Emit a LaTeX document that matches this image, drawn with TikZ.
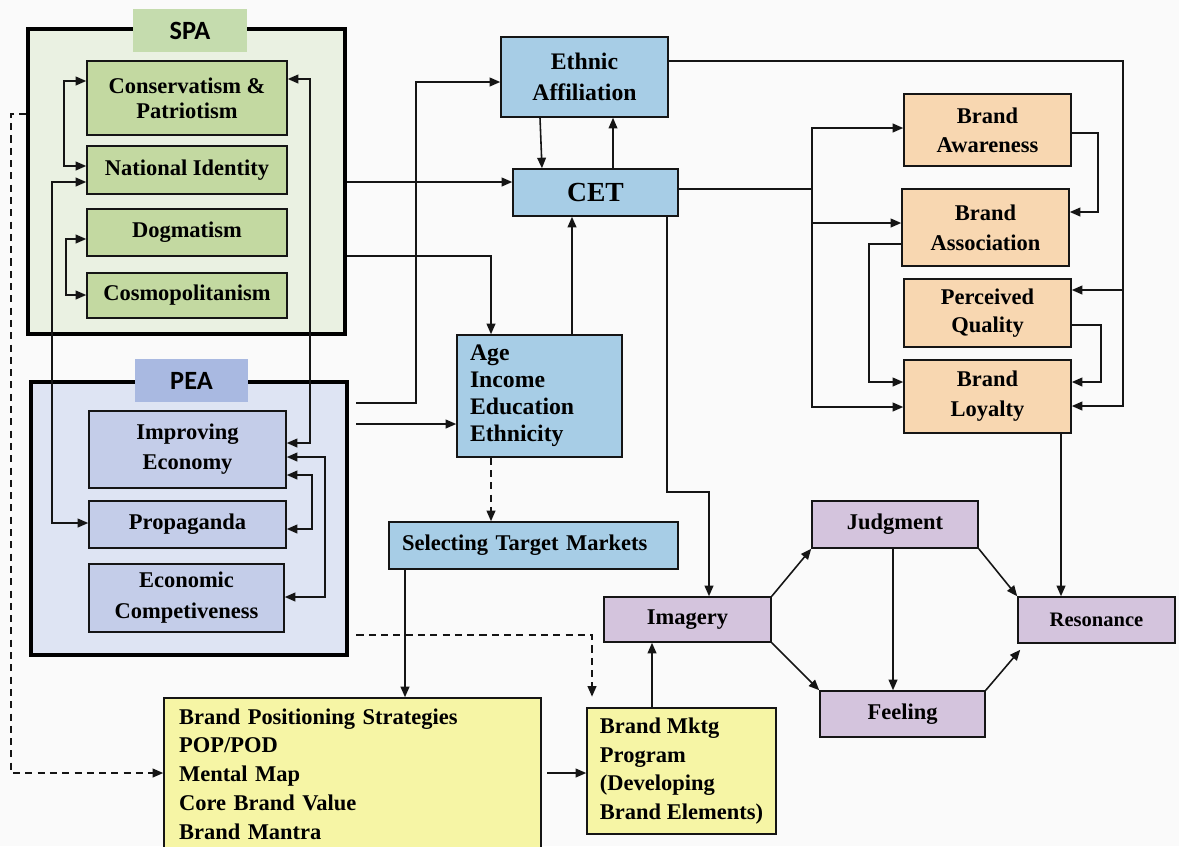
\documentclass[tikz,border=0pt]{standalone}
\usepackage{fontspec}
\setmainfont{Liberation Serif}
\newfontfamily\lblfont{Carlito}
\usetikzlibrary{arrows.meta}
\definecolor{bgclr}{HTML}{FAFAFA}
\definecolor{lineclr}{HTML}{151515}
\definecolor{spaBg}{HTML}{EAF1E2}
\definecolor{spaTag}{HTML}{C5DCAE}
\definecolor{spaBox}{HTML}{C3D9A1}
\definecolor{peaBg}{HTML}{DEE4F3}
\definecolor{peaTag}{HTML}{A9B9E1}
\definecolor{peaBox}{HTML}{C4CDE9}
\definecolor{cetBlue}{HTML}{A7CDE6}
\definecolor{peach}{HTML}{F8D7B1}
\definecolor{lilac}{HTML}{D4C4DD}
\definecolor{lemon}{HTML}{F6F5A5}
\begin{document}
\begin{tikzpicture}[x=0.02cm,y=-0.02cm,
  sz/.style 2 args={minimum width=#1*0.02cm, minimum height=#2*0.02cm},
  pbox/.style={draw=lineclr, line width=0.9pt, inner sep=0pt, align=center,
    font=\bfseries\fontsize{12.8}{17}\selectfont},
  frame/.style={draw=black, line width=1.8pt, inner sep=0pt},
  tag/.style={inner sep=0pt, font=\lblfont\bfseries\fontsize{15}{18}\selectfont},
  conn/.style={draw=lineclr, line width=0.9pt},
  arr/.style={conn, -{Triangle[length=6pt,width=5pt]}},
  arrs/.style={conn, {Triangle[length=6pt,width=5pt]}-{Triangle[length=6pt,width=5pt]}},
  dsh/.style={arr, dash pattern=on 4pt off 3pt}]

\useasboundingbox (0,0) rectangle (1179,846);
\fill[bgclr] (0,0) rectangle (1179,846);
\clip (0,0) rectangle (1179,846);

% ---- SPA group ----
\node[frame, fill=spaBg, sz={317}{305}] (spa) at (186.5,181.5) {};
\node[tag, fill=spaTag, sz={114}{43}] (spatag) at (190,30.5) {SPA};
\node[pbox, fill=spaBox, sz={200}{74}, font=\bfseries\fontsize{12.8}{14.2}\selectfont] (cons) at (187,98) {Conservatism \&\\Patriotism};
\node[pbox, fill=spaBox, sz={200}{48}] (natid) at (187,170) {National Identity};
\node[pbox, fill=spaBox, sz={200}{47}] (dog) at (187,232.5) {Dogmatism};
\node[pbox, fill=spaBox, sz={200}{45}] (cosmo) at (187,295.5) {Cosmopolitanism};

% ---- PEA group ----
\node[frame, fill=peaBg, sz={316}{273}] (pea) at (189,518.5) {};
\node[tag, fill=peaTag, sz={113}{43}] (peatag) at (191.5,380.5) {PEA};
\node[pbox, fill=peaBox, sz={197}{77}] (impr) at (187.5,449.5) {Improving\\Economy};
\node[pbox, fill=peaBox, sz={197}{47}] (prop) at (187.5,524.5) {Propaganda};
\node[pbox, fill=peaBox, sz={195}{68}, font=\bfseries\fontsize{12.8}{17.6}\selectfont] (econ) at (186.5,598) {Economic\\Competiveness};

% ---- centre column ----
\node[pbox, fill=cetBlue, sz={167}{80}, font=\bfseries\fontsize{13.5}{17.6}\selectfont] (ea) at (584.5,77) {Ethnic\\Affiliation};
\node[pbox, fill=cetBlue, sz={165}{47}, font=\bfseries\fontsize{15.7}{18}\selectfont] (cet) at (595.5,192.5) {CET};
\node[pbox, fill=cetBlue, sz={165}{122}, align=left, text width=2.78cm, inner xsep=0.26cm,
  font=\bfseries\fontsize{13.5}{15.3}\selectfont] (age) at (539.5,396) {Age\\Income\\Education\\Ethnicity};
\node[pbox, fill=cetBlue, sz={289}{47}, align=left, text width=5.26cm, inner xsep=0.26cm] (stm) at (533.5,545.5) {Selecting Target Markets};

% ---- brand equity boxes ----
\node[pbox, fill=peach, sz={167}{72}, font=\bfseries\fontsize{12.8}{16.4}\selectfont] (aw) at (987.5,130) {Brand\\Awareness};
\node[pbox, fill=peach, sz={167}{77}] (as) at (985.5,227.5) {Brand\\Association};
\node[pbox, fill=peach, sz={167}{68}, font=\bfseries\fontsize{12.8}{16}\selectfont] (pq) at (987.5,313) {Perceived\\Quality};
\node[pbox, fill=peach, sz={167}{73}] (loy) at (987.5,396.5) {Brand\\Loyalty};

% ---- brand building blocks ----
\node[pbox, fill=lilac, sz={167}{45}] (img) at (687.5,619.5) {Imagery};
\node[pbox, fill=lilac, sz={166}{47}] (jud) at (895,524.5) {Judgment};
\node[pbox, fill=lilac, sz={165}{46}] (feel) at (902.5,714) {Feeling};
\node[pbox, fill=lilac, sz={157}{46}, font=\bfseries\fontsize{11.7}{14}\selectfont] (res) at (1096.5,620) {Resonance};

% ---- positioning and programme ----
\node[pbox, fill=lemon, sz={377}{152}, align=left, text width=6.94cm, inner xsep=0.3cm,
  font=\bfseries\fontsize{12.8}{16.4}\selectfont] (bpos) at (352.5,774)
  {Brand Positioning Strategies\\POP/POD\\Mental Map\\Core Brand Value\\Brand Mantra};
\node[pbox, fill=lemon, sz={189}{126}, align=left,
  font=\bfseries\fontsize{12.8}{16.4}\selectfont] (bmk) at (681.5,771)
  {Brand Mktg\\Program\\(Developing\\Brand Elements)};

% ---- links inside SPA / PEA ----
\draw[arrs] (cons.west|-0,81) -- (64,81) -- (64,166) -- (natid.west|-0,166);
\draw[arrs] (natid.west|-0,182) -- (52,182) -- (52,523) -- (prop.west|-0,523);
\draw[arrs] (dog.west|-0,239) -- (66,239) -- (66,295) -- (cosmo.west|-0,295);
\draw[arrs] (cons.east|-0,79) -- (310,79) -- (310,443) -- (impr.east|-0,443);
\draw[arrs] (impr.east|-0,475) -- (312,475) -- (312,529) -- (prop.east|-0,529);
\draw[arrs] (impr.east|-0,457) -- (325,457) -- (325,597) -- (econ.east|-0,597);

% ---- SPA / PEA to the centre ----
\draw[arr] (spa.east|-0,182) -- (cet.west|-0,182);
\draw[arr] (spa.east|-0,256) -| (age.north-|491,0);
\draw[arr, shorten <=4.5pt] (pea.east|-0,403) -- (416,403) -- (416,82) -- (ea.west|-0,82);
\draw[arr, shorten <=4.5pt] (pea.east|-0,424) -- (age.west|-0,424);

% ---- centre column ----
\draw[arr] (ea.south-|540,0) -- (cet.north-|542,0);
\draw[arr, line width=0.6pt] (cet.north-|613,0) -- (ea.south-|613,0);
\draw[arr] (age.north-|572,0) -- (cet.south-|572,0);
\draw[dsh] (age.south-|491,0) -- (stm.north-|491,0);
\draw[arr] (stm.south-|405,0) -- (bpos.north-|405,0);

% ---- CET to brand equity ----
\coordinate (bus) at (812,189);
\draw[conn] (cet.east|-bus) -- (bus);
\draw[arr] (bus) |- (aw.west|-0,128);
\draw[arr] (bus) |- (as.west|-0,223);
\draw[arr] (bus) |- (loy.west|-0,407);
\draw[arr] (aw.east|-0,133) -- (1098,133) -- (1098,212) -- (as.east|-0,212);
\draw[arr] (as.west|-0,244) -- (869,244) -- (869,382) -- (loy.west|-0,382);
\draw[arr] (pq.east|-0,325) -- (1101,325) -- (1101,382) -- (loy.east|-0,382);

% ---- ethnic affiliation to quality and loyalty ----
\coordinate (jr) at (1123,290);
\draw[arr] (ea.east|-0,61) -- (1123,61) -- (1123,406) -- (loy.east|-0,406);
\draw[arr] (jr) -- (pq.east|-jr);

% ---- resonance pyramid ----
\draw[arr] (loy.south-|1061,0) -- (res.north-|1061,0);
\draw[arr] (cet.south-|667,0) -- (667,492) -- (709,492) -- (img.north-|709,0);
\draw[arr] (img.north east) -- (jud.south west);
\draw[arr] (img.south east) -- (feel.north west);
\draw[arr] (jud.south-|893,0) -- (feel.north-|893,0);
\draw[arr] (jud.south east) -- (res.north west);
\draw[arr] (feel.north east) -- ([shift={(3,6)}]res.south west);

% ---- bottom row ----
\draw[arr, shorten <=3pt] (bpos.east|-0,773) -- (bmk.west|-0,773);
\draw[arr] (bmk.north-|652,0) -- (img.south-|652,0);
\draw[dsh] (spa.west|-0,114) -- (11,114) -- (11,773) -- (bpos.west|-0,773);
\draw[dsh, shorten <=4.5pt, shorten >=6pt] (pea.east|-0,635) -- (592,635) -- (bmk.north-|592,0);

\end{tikzpicture}
\end{document}
